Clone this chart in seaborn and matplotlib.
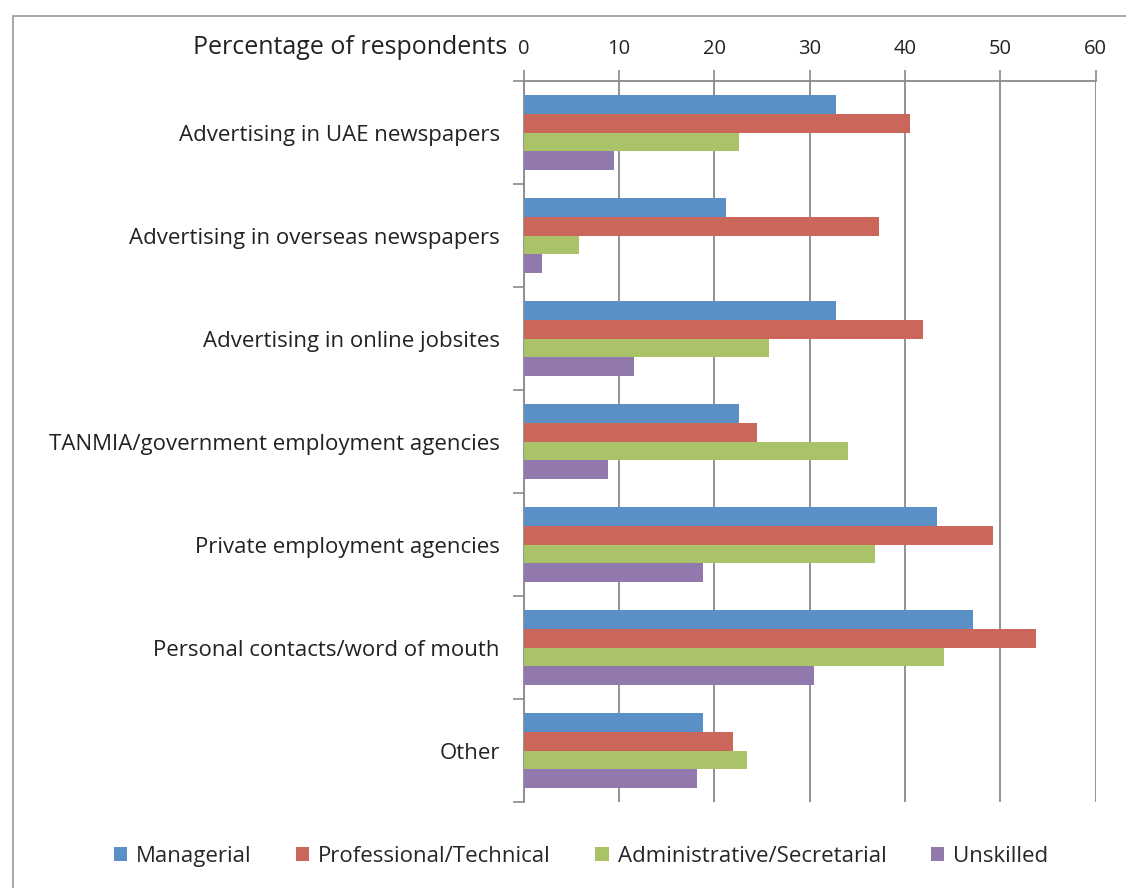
import matplotlib
matplotlib.use("Agg")
import matplotlib.pyplot as plt
import matplotlib.patches as mpatches
import numpy as np
import pandas as pd
import seaborn as sns

# Recruitment channels, listed top to bottom
channels = [
    "Advertising in UAE newspapers",
    "Advertising in overseas newspapers",
    "Advertising in online jobsites",
    "TANMIA/government employment agencies",
    "Private employment agencies",
    "Personal contacts/word of mouth",
    "Other",
]
groups = ["Managerial", "Professional/Technical", "Administrative/Secretarial", "Unskilled"]

# Percentage of respondents per staff group
managerial = [32.8, 21.2, 32.8, 22.6, 43.4, 47.2, 18.8]
professional = [40.5, 37.3, 41.9, 24.5, 49.3, 53.8, 22.0]
administrative = [22.6, 5.8, 25.7, 34.0, 36.9, 44.1, 23.4]
unskilled = [9.5, 1.9, 11.6, 8.9, 18.8, 30.5, 18.2]

x_ticks = [0, 10, 20, 30, 40, 50, 60]
colors = ["#5B90C6", "#CB665A", "#AAC368", "#9179AE"]

df = pd.DataFrame({
    "channel": channels * 4,
    "group": np.repeat(groups, len(channels)),
    "pct": managerial + professional + administrative + unskilled,
})

sns.set_style("white")
plt.rcParams["font.family"] = ["Open Sans", "DejaVu Sans"]

fig = plt.figure(figsize=(11.26, 8.88), dpi=100)
ax = fig.add_axes([523.5 / 1126, 86 / 888, 572 / 1126, 721 / 888])

sns.barplot(data=df, y="channel", x="pct", hue="group", order=channels,
            hue_order=groups, palette=colors, orient="h", width=0.72,
            saturation=1, edgecolor="none", linewidth=0, ax=ax, legend=False,
            zorder=3)

ax.set_xlim(0, 60)
ax.set_ylim(6.5, -0.5)

# value axis on top
ax.xaxis.tick_top()
ax.set_xticks(x_ticks)
ax.set_xticklabels([str(t) for t in x_ticks], fontsize=14.5, color="#222222")
ax.tick_params(axis="x", which="major", length=8, width=1.2, color="#8a8a8a",
               pad=8, direction="out")
ax.xaxis.grid(True, color="#8a8a8a", linewidth=1.3, zorder=0)
ax.set_xlabel("")

# category ticks at group boundaries, labels centred on the groups
ax.set_yticks(np.arange(-0.5, 7.0, 1.0))
ax.set_yticklabels([])
ax.set_yticks(np.arange(7), minor=True)
ax.set_yticklabels(channels, minor=True, fontsize=16, color="#222222")
ax.tick_params(axis="y", which="major", length=8, width=1.2, color="#8a8a8a",
               direction="out", left=True)
ax.tick_params(axis="y", which="minor", length=0, pad=17, left=True)
ax.set_ylabel("")

for side in ["right", "bottom"]:
    ax.spines[side].set_visible(False)
for side in ["top", "left"]:
    ax.spines[side].set_visible(True)
    ax.spines[side].set_color("#8a8a8a")
    ax.spines[side].set_linewidth(1.3)

fig.text(507 / 1126, 1 - 48 / 888, "Percentage of respondents", ha="right",
         va="center", fontsize=18, color="#222222")

handles = [mpatches.Patch(facecolor=c, edgecolor="none", label=g)
           for c, g in zip(colors, groups)]
fig.legend(handles=handles, loc="center", bbox_to_anchor=(581 / 1126, 1 - 856 / 888),
           ncol=4, frameon=False, fontsize=16, handlelength=0.6,
           handleheight=0.6, handletextpad=0.4, columnspacing=2.0)

# outer chart frame
fig.patches.append(mpatches.Rectangle((13 / 1126, -0.1), 1.2, 1 - 16 / 888 + 0.1,
                                      transform=fig.transFigure, fill=False,
                                      edgecolor="#9a9a9a", linewidth=1.2))

fig.savefig("out.png", dpi=100)
